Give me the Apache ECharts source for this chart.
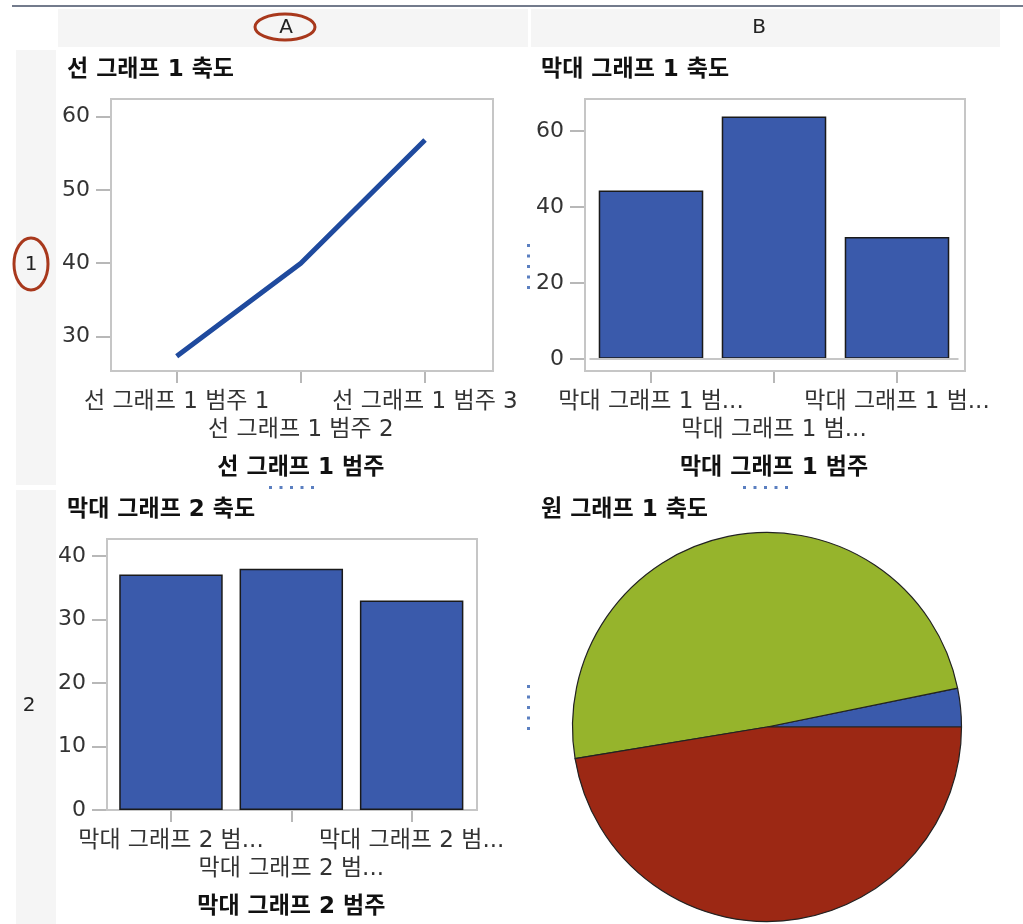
<!DOCTYPE html>
<html>
<head>
<meta charset="utf-8">
<script src="https://cdn.jsdelivr.net/npm/echarts@6/dist/echarts.min.js"></script>
<style>
html,body{margin:0;padding:0;background:#fff;}
#chart{width:1023px;height:924px;}
</style>
</head>
<body>
<div id="chart"></div>
<script>
// ---- data ----
const lineCategories = ['선 그래프 1 범주 1', '선 그래프 1 범주 2', '선 그래프 1 범주 3'];
const lineValues = [27.3, 40, 56.8];
const lineTicks = [30, 40, 50, 60];

const bar1Categories = ['막대 그래프 1 범주 1', '막대 그래프 1 범주 2', '막대 그래프 1 범주 3'];
const bar1Values = [44.3, 63.8, 32.1];
const bar1Ticks = [0, 20, 40, 60];

const bar2Categories = ['막대 그래프 2 범주 1', '막대 그래프 2 범주 2', '막대 그래프 2 범주 3'];
const bar2Values = [37.1, 38.0, 33.0];
const bar2Ticks = [0, 10, 20, 30, 40];

const pieCategories = ['원 그래프 1 범주 1', '원 그래프 1 범주 2', '원 그래프 1 범주 3'];
const pieValues = [3.2, 49.4, 47.4];

const panelTitles = ['선 그래프 1 축도', '막대 그래프 1 축도', '막대 그래프 2 축도', '원 그래프 1 축도'];
const axisTitles = ['선 그래프 1 범주', '막대 그래프 1 범주', '막대 그래프 2 범주'];
const columnLabels = ['A', 'B'];
const rowLabels = ['1', '2'];

// ---- styling ----
const FONT = '"DejaVu Sans", "Noto Sans CJK KR", sans-serif';
const TXT = '#333';
const FRAME = '#c6c6c6';
const BLUE = '#3a5aab';
const HANDLE = '#5b7fc0';
const RING = '#a8381c';

const stagger = (v, i) => (i % 2 ? '\n' + v : v);
const truncStagger = (v, i) => {
  const s = v.length > 10 ? v.slice(0, 10) + '...' : v;
  return i % 2 ? '\n' + s : s;
};

function xAxisCfg(gridIndex, data, fmt, name) {
  return {
    type: 'category', gridIndex, data,
    boundaryGap: true,
    axisLine: { show: false, onZero: false },
    axisTick: { show: true, alignWithLabel: true, length: 12, lineStyle: { color: '#b8b8b8', width: 2 } },
    axisLabel: { formatter: fmt, color: TXT, fontSize: 23, fontFamily: FONT, margin: 17, lineHeight: 28, interval: 0 },
    name, nameLocation: 'middle', nameGap: 86,
    nameTextStyle: { fontWeight: 'bold', fontSize: 23, color: '#111', fontFamily: FONT },
    splitLine: { show: false }
  };
}
function yAxisCfg(gridIndex, min, max, ticks, offset) {
  return {
    type: 'value', gridIndex, min, max, offset,
    axisLine: { show: false },
    axisTick: { show: true, length: 15, customValues: ticks, lineStyle: { color: '#b8b8b8', width: 2 } },
    axisLabel: { customValues: ticks, color: TXT, fontSize: 22, fontFamily: FONT, margin: 21 },
    splitLine: { show: false }
  };
}

const dots = [];
function hDots(x0, y) { for (let k = 0; k < 5; k++) dots.push({ type: 'rect', shape: { x: x0 + k * 10.5, y: y, width: 3, height: 3 }, style: { fill: HANDLE } }); }
function vDots(x, y0) { for (let k = 0; k < 5; k++) dots.push({ type: 'rect', shape: { x: x, y: y0 + k * 10.5, width: 3, height: 3 }, style: { fill: HANDLE } }); }
hDots(269, 486); hDots(743, 486); vDots(527, 244); vDots(527, 685);

// plot frames (drawn around each plotting area)
const frames = [
  { x: 111, y: 99, width: 382, height: 272 },
  { x: 585, y: 99, width: 380, height: 272 },
  { x: 107, y: 539, width: 370, height: 271 }
].map(s => ({ type: 'rect', shape: s, style: { fill: 'none', stroke: FRAME, lineWidth: 2 }, z: 1 }));

const option = {
  animation: false,
  backgroundColor: '#fff',
  textStyle: { fontFamily: FONT },
  title: [
    { text: panelTitles[0], left: 62, top: 54 },
    { text: panelTitles[1], left: 536, top: 54 },
    { text: panelTitles[2], left: 62, top: 494 },
    { text: panelTitles[3], left: 536, top: 494 }
  ].map(t => Object.assign(t, { textStyle: { fontSize: 23, fontWeight: 'bold', color: '#111', fontFamily: FONT } })),
  graphic: [
    { type: 'rect', shape: { x: 12, y: 5, width: 1011, height: 2 }, style: { fill: '#737b8c' }, z: 0 },
    { type: 'rect', shape: { x: 58, y: 9, width: 470, height: 38 }, style: { fill: '#f5f5f5' }, z: 0 },
    { type: 'rect', shape: { x: 531, y: 9, width: 469, height: 38 }, style: { fill: '#f5f5f5' }, z: 0 },
    { type: 'rect', shape: { x: 16, y: 50, width: 40, height: 435 }, style: { fill: '#f5f5f5' }, z: 0 },
    { type: 'rect', shape: { x: 16, y: 490, width: 40, height: 434 }, style: { fill: '#f5f5f5' }, z: 0 },
    { type: 'text', x: 286, y: 28, style: { text: columnLabels[0], fill: '#222', font: '20px ' + FONT, align: 'center', verticalAlign: 'middle' } },
    { type: 'text', x: 759, y: 28, style: { text: columnLabels[1], fill: '#222', font: '20px ' + FONT, align: 'center', verticalAlign: 'middle' } },
    { type: 'text', x: 31, y: 265, style: { text: rowLabels[0], fill: '#222', font: '20px ' + FONT, align: 'center', verticalAlign: 'middle' } },
    { type: 'text', x: 29, y: 706, style: { text: rowLabels[1], fill: '#222', font: '20px ' + FONT, align: 'center', verticalAlign: 'middle' } },
    { type: 'ellipse', shape: { cx: 285, cy: 27, rx: 30, ry: 13 }, style: { fill: 'none', stroke: RING, lineWidth: 3 } },
    { type: 'ellipse', shape: { cx: 31, cy: 264, rx: 17, ry: 26 }, style: { fill: 'none', stroke: RING, lineWidth: 3 } }
  ].concat(frames, dots),
  grid: [
    { left: 114.6, top: 99, width: 372.5, height: 272 },
    { left: 589.5, top: 99, width: 369, height: 272 },
    { left: 110.8, top: 539, width: 361, height: 271 }
  ],
  xAxis: [
    xAxisCfg(0, lineCategories, stagger, axisTitles[0]),
    xAxisCfg(1, bar1Categories, truncStagger, axisTitles[1]),
    xAxisCfg(2, bar2Categories, truncStagger, axisTitles[2])
  ],
  yAxis: [
    yAxisCfg(0, 25.3, 62.4, lineTicks, 3.6),
    yAxisCfg(1, -3.2, 68.4, bar1Ticks, 4.5),
    yAxisCfg(2, 0, 42.7, bar2Ticks, 3.8)
  ],
  series: [
    {
      type: 'line', xAxisIndex: 0, yAxisIndex: 0, data: lineValues,
      showSymbol: false, symbol: 'none',
      lineStyle: { color: '#1f4a9e', width: 5 }
    },
    {
      type: 'bar', xAxisIndex: 1, yAxisIndex: 1, data: bar1Values,
      barCategoryGap: '15%',
      itemStyle: { color: BLUE, borderColor: '#1a1a1a', borderWidth: 1.5 },
      markLine: {
        silent: true, symbol: 'none', label: { show: false },
        lineStyle: { color: FRAME, width: 2, type: 'solid' },
        data: [{ yAxis: 0 }]
      }
    },
    {
      type: 'bar', xAxisIndex: 2, yAxisIndex: 2, data: bar2Values,
      barCategoryGap: '14%',
      itemStyle: { color: BLUE, borderColor: '#1a1a1a', borderWidth: 1.5 }
    },
    {
      type: 'pie', center: [767, 727], radius: 194.5,
      startAngle: 0, clockwise: false,
      label: { show: false }, labelLine: { show: false },
      data: pieCategories.map((n, i) => ({ name: n, value: pieValues[i] })),
      color: [BLUE, '#96b42c', '#9c2814'],
      itemStyle: { borderColor: '#222', borderWidth: 1.2 }
    }
  ]
};

const chart = echarts.init(document.getElementById('chart'), null, { renderer: 'canvas' });
chart.setOption(option);
</script>
</body>
</html>
